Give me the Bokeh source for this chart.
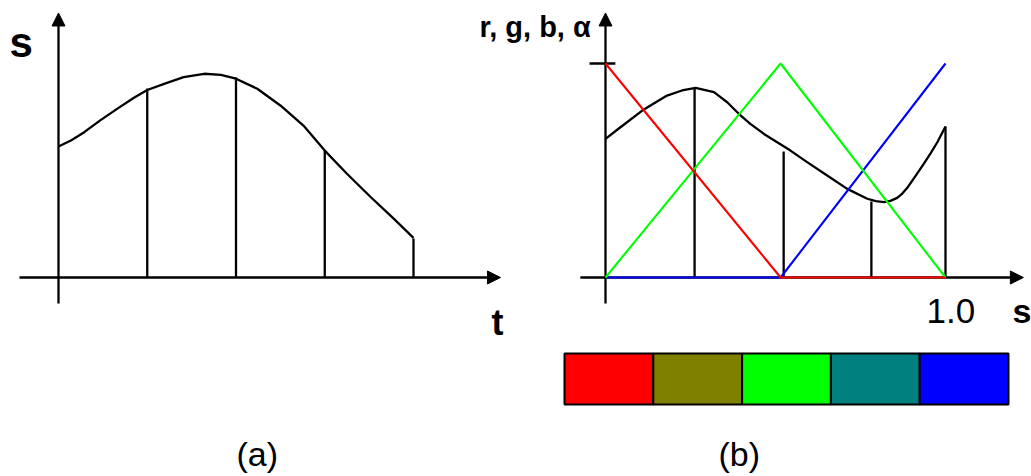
import numpy as np
from bokeh.plotting import figure
from bokeh.models import Range1d, Arrow, NormalHead, Label
from bokeh.embed import file_html
from bokeh.resources import INLINE

# ---- (a) scalar value s along the ray parameter t ----
curve_t = [0.0, 0.14, 0.29, 0.47, 0.66, 0.85, 1.0, 1.19, 1.41, 1.64, 1.83, 2.0,
           2.24, 2.5, 2.76, 3.0, 3.25, 3.52, 3.78, 4.0]
curve_s = [0.612, 0.640, 0.679, 0.734, 0.788, 0.840, 0.876, 0.905, 0.936, 0.952,
           0.947, 0.929, 0.882, 0.804, 0.710, 0.593, 0.485, 0.375, 0.274, 0.185]
sample_t = [1, 2, 3, 4]
sample_s = [0.883, 0.935, 0.593, 0.182]

# ---- (b) transfer function r, g, b over s in [0, 1] ----
tf_s = [0.0, 0.515, 1.0]
tf_r = [1.0, 0.0, 0.0]
tf_g = [0.0, 1.0, 0.0]
tf_b = [0.0, 0.0, 1.0]

alpha_s = [0.0, 0.044, 0.108, 0.181, 0.225, 0.265, 0.319, 0.358, 0.392, 0.426, 0.466,
           0.505, 0.544, 0.593, 0.652, 0.711, 0.770, 0.795, 0.819, 0.838, 0.858, 0.873,
           0.887, 0.910, 0.936, 0.956, 0.976, 1.0]
alpha_v = [0.648, 0.702, 0.780, 0.850, 0.874, 0.886, 0.866, 0.819, 0.765, 0.718, 0.671,
           0.632, 0.593, 0.539, 0.477, 0.414, 0.368, 0.357, 0.352, 0.358, 0.372, 0.392,
           0.418, 0.470, 0.531, 0.580, 0.632, 0.706]
sample_sb = [0.262, 0.524, 0.782, 1.0]
sample_vb = [0.883, 0.589, 0.355, 0.706]

# colours sampled at the knots and halfway between them
bar_s = [0.0, 0.2575, 0.515, 0.7575, 1.0]

FONT = "Liberation Sans"
BLACK_W = 2.3
COLOR_W = 2.1

p = figure(width=1031, height=476, x_range=Range1d(0, 1031), y_range=Range1d(476, 0),
           min_border=0, toolbar_location=None, output_backend="svg",
           x_axis_location=None, y_axis_location=None)
p.grid.visible = False
p.outline_line_color = None
p.background_fill_color = "white"
p.border_fill_color = "white"

# data ranges for each panel (value axis shared by both panels)
p.extra_x_ranges = {
    "t": Range1d(-58 / 88.75, (1031 - 58) / 88.75),
    "sb": Range1d(-605 / 340.0, (1031 - 605) / 340.0),
    "bar": Range1d(-564 / 88.8, (1031 - 564) / 88.8),
}
p.extra_y_ranges = {
    "val": Range1d(-(476 - 277) / 214.0, 277 / 214.0),
    "bar": Range1d(-(476 - 404) / 51.0, 404 / 51.0),
}


def axis_arrow(x0, y0, x1, y1, xr, yr):
    p.add_layout(Arrow(x_start=x0, y_start=y0, x_end=x1, y_end=y1, level="underlay",
                       x_range_name=xr, y_range_name=yr, line_width=BLACK_W, line_color="black",
                       end=NormalHead(size=13, fill_color="black", line_color="black", line_width=1)))


# ---- panel (a) ----
axis_arrow(-0.44, 0, 4.98, 0, "t", "val")
axis_arrow(0, -0.122, 0, 1.236, "t", "val")
p.segment(x0=sample_t, y0=[0] * len(sample_t), x1=sample_t, y1=sample_s,
          x_range_name="t", y_range_name="val", line_color="black", line_width=BLACK_W)
p.line(curve_t, curve_s, x_range_name="t", y_range_name="val",
       line_color="black", line_width=BLACK_W, line_join="round")

# ---- panel (b) ----
axis_arrow(-0.074, 0, 1.229, 0, "sb", "val")
axis_arrow(0, -0.122, 0, 1.236, "sb", "val")
p.segment(x0=[-0.047], y0=[1.0], x1=[0.029], y1=[1.0],
          x_range_name="sb", y_range_name="val", line_color="black", line_width=BLACK_W)
p.segment(x0=sample_sb, y0=[0] * len(sample_sb), x1=sample_sb, y1=sample_vb,
          x_range_name="sb", y_range_name="val", line_color="black", line_width=BLACK_W)
p.line(alpha_s, alpha_v, x_range_name="sb", y_range_name="val",
       line_color="black", line_width=BLACK_W, line_join="round")
p.line(tf_s, tf_b, x_range_name="sb", y_range_name="val", line_color="#0000ff", line_width=COLOR_W)
p.line(tf_s, tf_g, x_range_name="sb", y_range_name="val", line_color="#00ff00", line_width=COLOR_W)
p.line(tf_s, tf_r, x_range_name="sb", y_range_name="val", line_color="#ff0000", line_width=COLOR_W)

# colour bar: transfer function evaluated at the sample positions
def to_hex(r, g, b):
    return "#%02x%02x%02x" % tuple(int(round(c * 255)) for c in (r, g, b))

bar_colors = [to_hex(np.interp(s, tf_s, tf_r), np.interp(s, tf_s, tf_g), np.interp(s, tf_s, tf_b))
              for s in bar_s]
idx = np.arange(len(bar_s))
p.quad(left=idx, right=idx + 1, bottom=0, top=1, fill_color=bar_colors,
       line_color="black", line_width=2, x_range_name="bar", y_range_name="bar")

# ---- labels ----
def label(x, baseline, text, size, bold=True):
    # the renderer places the alphabetic baseline about 0.36 em below the anchor
    p.add_layout(Label(x=x, y=baseline - 0.36 * size, text=text, text_font=FONT,
                       text_font_size=f"{size}px",
                       text_font_style="bold" if bold else "normal", text_color="black",
                       text_align="left", text_baseline="alphabetic"))

label(9, 57, "s", 42)
label(491, 335, "t", 36)
label(236, 466, "(a)", 34, bold=False)
label(479, 37, "r, g, b, \u03b1", 29)
label(926, 323, "1.0", 35, bold=False)
label(1012, 323, "s", 34)
label(718, 466, "(b)", 34, bold=False)

open("out.html", "w").write(file_html(p, INLINE))
